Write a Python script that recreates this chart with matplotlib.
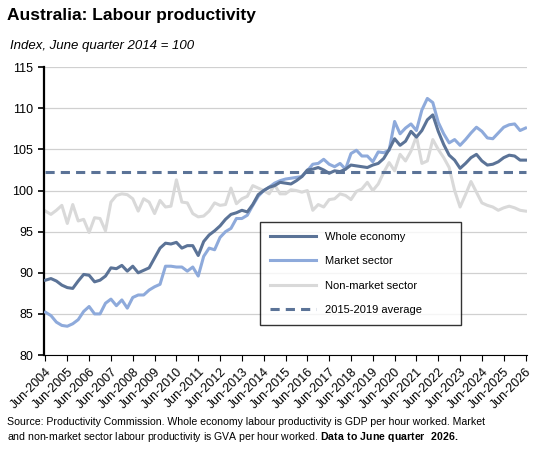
import matplotlib
matplotlib.use("Agg")
import matplotlib.pyplot as plt
import pandas as pd

plt.rcParams["font.family"] = ["Liberation Sans", "DejaVu Sans"]
plt.rcParams["mathtext.fontset"] = "custom"
plt.rcParams["mathtext.rm"] = "Liberation Sans"
plt.rcParams["mathtext.bf"] = "Liberation Sans:bold"

# quarterly, Jun-2004 .. Jun-2026
quarters = pd.period_range("2004Q2", "2026Q2", freq="Q")

whole = [89.1, 89.3, 89.0, 88.5, 88.2, 88.1, 89.0, 89.8, 89.7, 88.9,
         89.1, 89.6, 90.6, 90.5, 90.9, 90.2, 90.8, 90.0, 90.3, 90.6,
         91.8, 93.0, 93.6, 93.5, 93.7, 93.0, 93.3, 93.3, 92.1, 93.8,
         94.6, 95.1, 95.7, 96.5, 97.1, 97.3, 97.6, 97.4, 98.3, 99.5,
         100.0, 100.4, 100.6, 101.0, 100.9, 100.8, 101.2, 101.7, 102.5, 102.6,
         102.8, 102.5, 102.1, 102.4, 102.3, 102.6, 103.1, 103.0, 102.9, 102.8,
         103.1, 103.3, 103.9, 105.0, 106.3, 105.5, 106.0, 107.2, 106.5, 107.3,
         108.6, 109.2, 107.2, 105.6, 104.3, 103.7, 102.7, 103.3, 104.0, 104.4,
         103.6, 103.1, 103.2, 103.5, 104.0, 104.3, 104.2, 103.7, 103.7]

market = [85.2, 84.8, 84.0, 83.6, 83.5, 83.8, 84.3, 85.3, 85.9, 85.0,
          85.0, 86.3, 86.8, 86.0, 86.7, 85.7, 87.0, 87.3, 87.3, 87.9,
          88.3, 88.6, 90.8, 90.8, 90.7, 90.7, 90.2, 90.7, 89.6, 92.0,
          93.0, 92.8, 94.3, 95.0, 95.4, 96.6, 96.6, 97.0, 98.2, 99.3,
          100.0, 100.4, 100.9, 101.2, 101.4, 101.5, 101.6, 101.7, 102.4, 103.2,
          103.3, 103.8, 103.2, 102.9, 103.3, 102.6, 104.5, 104.9, 104.2, 104.2,
          103.5, 104.7, 104.6, 104.9, 108.4, 106.9, 107.6, 108.1, 107.3, 109.8,
          111.2, 110.7, 108.3, 106.9, 105.8, 106.2, 105.5, 106.2, 107.0, 107.7,
          107.2, 106.4, 106.3, 107.0, 107.7, 108.0, 108.1, 107.3, 107.6]

nonmarket = [97.5, 97.1, 97.6, 98.2, 96.0, 98.3, 96.3, 96.5, 94.9, 96.7,
             96.6, 95.1, 98.6, 99.4, 99.6, 99.5, 99.0, 97.5, 99.0, 98.6,
             97.2, 98.8, 98.0, 98.1, 101.3, 98.6, 98.5, 97.2, 96.8, 96.9,
             97.5, 98.5, 98.2, 98.3, 100.3, 98.4, 99.0, 99.3, 100.6, 100.3,
             100.0, 99.6, 100.7, 99.6, 99.6, 100.1, 100.0, 99.8, 100.0, 97.6,
             98.3, 98.0, 98.9, 99.0, 99.6, 99.4, 98.9, 99.9, 100.2, 101.0,
             100.0, 100.8, 102.2, 103.4, 102.4, 104.4, 103.6, 104.8, 106.6, 103.3,
             103.6, 106.2, 105.0, 104.0, 102.8, 100.0, 98.0, 99.5, 101.1, 99.8,
             98.5, 98.2, 98.0, 97.6, 97.9, 98.1, 97.9, 97.6, 97.5]

avg_2015_2019 = 102.3

labels = [f"Jun-{q.year}" for q in quarters]
x = list(range(len(quarters)))

fig = plt.figure(figsize=(5.48, 4.54), dpi=100)
ax = fig.add_axes([0.080, 0.218, 0.882, 0.634])

c_whole = "#5b7397"
c_market = "#8eaadb"
c_non = "#d9d9d9"

ax.plot(x, nonmarket, color=c_non, lw=2.2, label="Non-market sector", zorder=2)
ax.plot(x, market, color=c_market, lw=2.2, label="Market sector", zorder=3)
ax.plot(x, whole, color=c_whole, lw=2.2, label="Whole economy", zorder=4)
ax.plot([x[0], x[-1]], [avg_2015_2019] * 2, color=c_whole, lw=2.2,
        ls=(0, (3, 2)), label="2015-2019 average", zorder=5)

ax.set_xlim(-0.3, len(x) - 0.7)
ax.set_ylim(80, 115)
ax.set_yticks(range(80, 116, 5))
ax.tick_params(axis="y", labelsize=9, length=4, width=1.2)
ax.set_xticks(x[::4])
ax.set_xticklabels(labels[::4], rotation=45, ha="right", rotation_mode="anchor",
                   fontsize=9)
ax.tick_params(axis="x", length=4)
ax.grid(axis="y", color="#d0d0d0", lw=0.9, zorder=0)
ax.spines[["top", "right"]].set_visible(False)
ax.spines["left"].set_linewidth(1.6)

h, l = ax.get_legend_handles_labels()
order = [2, 1, 0, 3]
leg = ax.legend([h[i] for i in order], [l[i] for i in order],
                loc="lower left", bbox_to_anchor=(0.435, 0.085, 0.44, 0.325),
                mode="expand", fontsize=8, frameon=True, fancybox=False,
                edgecolor="black", handlelength=4.2, labelspacing=1.3,
                borderpad=0.9)
leg.get_frame().set_linewidth(1.0)

fig.text(0.013, 0.955, "Australia: Labour productivity", fontsize=12.5,
         fontweight="bold")
fig.text(0.018, 0.893, "Index, June quarter 2014 = 100", fontsize=9.5,
         style="italic")
fig.text(0.013, 0.063,
         "Source: Productivity Commission. Whole economy labour productivity is GDP per hour worked. Market",
         fontsize=7.6)
fig.text(0.013, 0.030,
         "and non-market sector labour productivity is GVA per hour worked. $\\bf{Data\\ to\\ June\\ quarter\\ \\ 2026.}$",
         fontsize=7.6)

fig.savefig("out.png", dpi=100)
